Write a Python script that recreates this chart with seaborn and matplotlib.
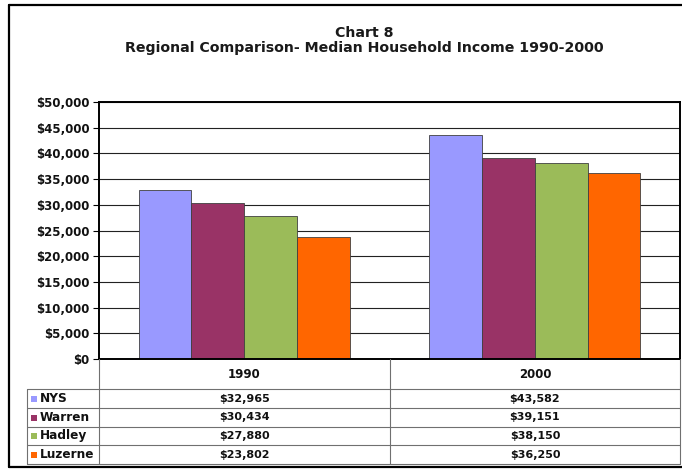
import matplotlib
matplotlib.use("Agg")
import matplotlib.pyplot as plt
import seaborn as sns
import pandas as pd
from matplotlib.ticker import FuncFormatter

years = ["1990", "2000"]
regions = ["NYS", "Warren", "Hadley", "Luzerne"]
nys = [32965, 43582]
warren = [30434, 39151]
hadley = [27880, 38150]
luzerne = [23802, 36250]
colors = ["#9999FF", "#993366", "#9BBB59", "#FF6600"]
yticks = list(range(0, 50001, 5000))

sns.set_theme(style="white")
plt.rcParams['font.family'] = ['DejaVu Sans']

series = [nys, warren, hadley, luzerne]
df = pd.DataFrame({
    "year": years * len(regions),
    "region": [r for r in regions for _ in years],
    "income": [v for s in series for v in s],
})

W, H = 682, 470
fig = plt.figure(figsize=(W / 100, H / 100), dpi=100)
fig.patch.set_facecolor("white")


def box(l, t, r, b):
    return [l / W, 1 - b / H, (r - l) / W, (b - t) / H]


ax = fig.add_axes(box(99, 102, 680, 359))
sns.barplot(data=df, x="year", y="income", hue="region", order=years,
            hue_order=regions, palette=colors, width=0.727, saturation=1,
            edgecolor="#404040", linewidth=0.6, legend=False, ax=ax)

ax.set_xlim(-0.5, 1.5)
ax.set_ylim(0, 50000)
ax.set_yticks(yticks)
ax.yaxis.set_major_formatter(FuncFormatter(lambda v, p: "${:,.0f}".format(v)))
ax.set_axisbelow(True)
ax.yaxis.grid(True, color="#222222", linewidth=0.8)
ax.tick_params(axis="y", left=True, length=4, width=0.8, color="black",
               pad=3, labelsize=8.5, labelcolor="#111111")
for t in ax.get_yticklabels():
    t.set_fontweight("bold")
ax.set_xticks([])
ax.set_xlabel("")
ax.set_ylabel("")
for s in ax.spines.values():
    s.set_color("black")
    s.set_linewidth(1.4)

# overlay for title, data table and frame
ov = fig.add_axes([0, 0, 1, 1])
ov.set_xlim(0, W)
ov.set_ylim(H, 0)
ov.axis("off")
ov.patch.set_alpha(0)

ov.text(364, 33, "Chart 8", ha="center", va="center", fontsize=10.2, fontweight="bold", color="#1a1a1a")
ov.text(364, 48, "Regional Comparison- Median Household Income 1990-2000",
        ha="center", va="center", fontsize=10.2, fontweight="bold", color="#1a1a1a")

lc = "#707070"
col_x = [27, 99, 390, 680]
row_y = [389, 408, 427, 445, 464]
for x in col_x[1:]:
    ov.plot([x, x], [359, row_y[-1]], color=lc, lw=0.8)
ov.plot([col_x[0], col_x[0]], [row_y[0], row_y[-1]], color=lc, lw=0.8)
for y in row_y:
    ov.plot([col_x[0], col_x[-1]], [y, y], color=lc, lw=0.8)

centers = [(col_x[1] + col_x[2]) / 2, (col_x[2] + col_x[3]) / 2]
for cx, yr in zip(centers, years):
    ov.text(cx, 374, yr, ha="center", va="center", fontsize=8.5, fontweight="bold", color="#111111")

for i, (name, vals, c) in enumerate(zip(regions, series, colors)):
    cy = (row_y[i] + row_y[i + 1]) / 2
    ov.add_patch(plt.Rectangle((31, cy - 3), 6, 6, facecolor=c, edgecolor="none"))
    ov.text(39.5, cy, name, ha="left", va="center", fontsize=8.7, fontweight="bold", color="#111111")
    for cx, v in zip(centers, vals):
        ov.text(cx, cy, "${:,.0f}".format(v), ha="center", va="center",
                fontsize=8, fontweight="bold", color="#111111")

# outer frame
ov.plot([9, 682], [5, 5], color="black", lw=1.6)
ov.plot([9, 9], [5, 467], color="black", lw=1.6)
ov.plot([9, 682], [467, 467], color="black", lw=1.6)

fig.savefig("out.png", dpi=100)
